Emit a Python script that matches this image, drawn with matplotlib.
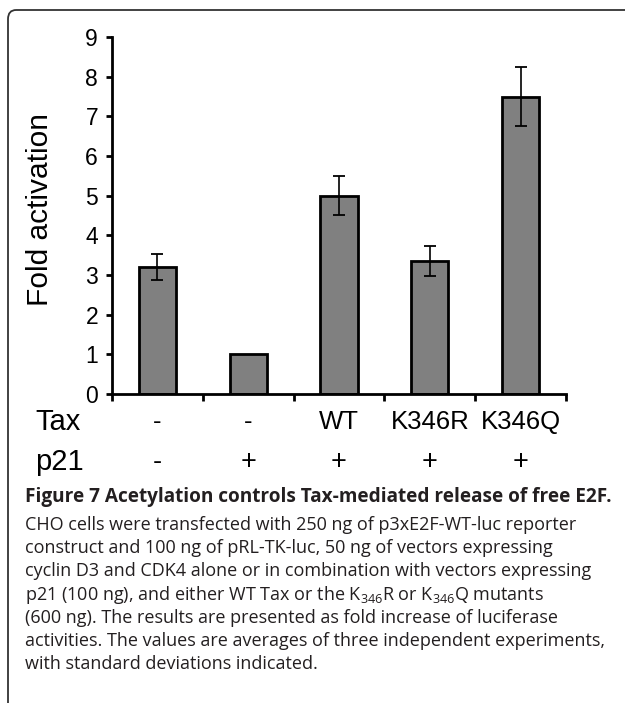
import matplotlib
matplotlib.use("Agg")
import matplotlib.pyplot as plt
from matplotlib.patches import FancyBboxPatch
from matplotlib.transforms import blended_transform_factory

# Data
groups = ["1", "2", "3", "4", "5"]
fold_activation = [3.2, 1.0, 5.0, 3.35, 7.5]
std_dev = [0.33, 0.0, 0.49, 0.37, 0.75]
tax_labels = ["-", "-", "WT", "K346R", "K346Q"]
p21_labels = ["-", "+", "+", "+", "+"]
y_ticks = list(range(0, 10))

W, H = 625, 703
fig = plt.figure(figsize=(W / 100, H / 100), dpi=100)

plt.rcParams["mathtext.fontset"] = "custom"
plt.rcParams["mathtext.rm"] = "Open Sans"
plt.rcParams["mathtext.it"] = "Open Sans"
plt.rcParams["mathtext.default"] = "regular"

# Frame (rounded box, cut on the right and bottom)
frame = FancyBboxPatch((8 / W, -0.05), 1.2, 1 - 10 / H + 0.05,
                       boxstyle="round,pad=0,rounding_size=0.013",
                       transform=fig.transFigure, facecolor="none",
                       edgecolor="#333333", linewidth=1.3, clip_on=False)
fig.patches.append(frame)

ax = fig.add_axes([112 / W, 1 - 394 / H, (566 - 112) / W, (394 - 37) / H])
x = list(range(len(groups)))
ax.bar(x, fold_activation, width=0.41, color="#808080", edgecolor="black",
       linewidth=2.0, zorder=2)
errs = [(xi, v, s) for xi, v, s in zip(x, fold_activation, std_dev) if s > 0]
ax.errorbar([e[0] for e in errs], [e[1] for e in errs], yerr=[e[2] for e in errs],
            fmt="none", ecolor="black", elinewidth=1.2, capsize=4, capthick=1.3,
            zorder=3)

ax.set_xlim(-0.5, 4.5)
ax.set_ylim(0, 9)
ax.set_yticks(y_ticks)
ax.set_yticklabels([str(t) for t in y_ticks], fontsize=16.5, family="Liberation Sans")
ax.set_xticks([i - 0.5 for i in range(len(groups) + 1)])
ax.set_xticklabels([])
for s in ["top", "right"]:
    ax.spines[s].set_visible(False)
for s in ["left", "bottom"]:
    ax.spines[s].set_linewidth(2)
ax.tick_params(axis="y", direction="out", length=4, width=2, pad=6)
ax.tick_params(axis="x", direction="out", length=5, width=2)

fig.text(40 / W, 1 - 210 / H, "Fold activation", rotation=90, ha="center",
         va="center", fontsize=21.5, family="Liberation Sans")

tr = blended_transform_factory(ax.transData, ax.transAxes)
tax_y = (394 - 421.7) / (394 - 37)
p21_y = (394 - 462) / (394 - 37)
for xi, t, p in zip(x, tax_labels, p21_labels):
    ax.text(xi, tax_y, t, transform=tr, ha="center", va="center",
            fontsize=18.5, family="Liberation Sans")
    ax.text(xi, p21_y, p, transform=tr, ha="center", va="center",
            fontsize=19.5, family="Liberation Sans")
fig.text(35 / W, 1 - 421.7 / H, "Tax", ha="left", va="center", fontsize=21,
         family="Liberation Sans")
fig.text(35 / W, 1 - 462 / H, "p21", ha="left", va="center", fontsize=21,
         family="Liberation Sans")

# Caption
cap_color = "#231f20"
fig.text(25 / W, 1 - 497 / H,
         "Figure 7 Acetylation controls Tax-mediated release of free E2F.",
         ha="left", va="center", fontsize=13.7, fontweight="bold",
         family="Open Sans", color=cap_color)
lines = [
    "CHO cells were transfected with 250 ng of p3xE2F-WT-luc reporter",
    "construct and 100 ng of pRL-TK-luc, 50 ng of vectors expressing",
    "cyclin D3 and CDK4 alone or in combination with vectors expressing",
    r"p21 (100 ng), and either WT Tax or the K$_{346}$R or K$_{346}$Q mutants",
    "(600 ng). The results are presented as fold increase of luciferase",
    "activities. The values are averages of three independent experiments,",
    "with standard deviations indicated.",
]
for i, ln in enumerate(lines):
    fig.text(25 / W, 1 - (525 + 23.2 * i) / H, ln, ha="left", va="center",
             fontsize=13.0, family="Open Sans", color=cap_color)

fig.savefig("out.png", dpi=100)
